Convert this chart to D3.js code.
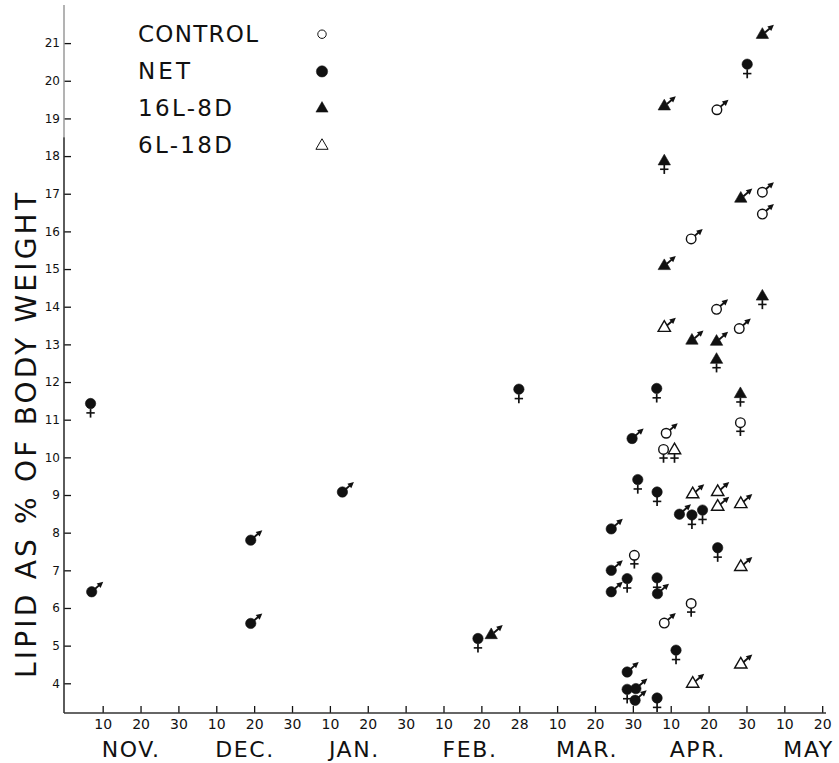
<!DOCTYPE html>
<html>
<head>
<meta charset="utf-8">
<script src="https://cdn.jsdelivr.net/npm/d3@7"></script>
<style>
  body { margin: 0; background: #fff; }
  svg { display: block; font-family: "DejaVu Sans", sans-serif; }
</style>
</head>
<body>
<svg id="chart" width="839" height="763"></svg>
<script>
// x = days from 1 Nov on the figure's even 10-day grid (Feb 28 sits in a "30" slot)
// each point: [day, lipid %, sex]
const control = [
  [172.2, 19.23, 'M'], [184.2, 17.04, 'M'], [184.2, 16.46, 'M'], [165.4, 15.8, 'M'],
  [172.1, 13.93, 'M'], [178.1, 13.42, 'M'], [178.4, 10.92, 'F'], [158.8, 10.64, 'M'],
  [158.1, 10.21, 'F'], [150.4, 7.4, 'F'], [165.4, 6.12, 'F'], [158.3, 5.6, 'M']
]
const net = [
  [6.8, 11.43, 'F'], [7.1, 6.43, 'M'], [49.1, 7.8, 'M'], [49.1, 5.59, 'M'],
  [73.3, 9.08, 'M'], [119.9, 11.81, 'F'], [109.1, 5.19, 'F'], [180.2, 20.44, 'F'],
  [156.3, 11.83, 'F'], [149.8, 10.5, 'M'], [151.3, 9.41, 'F'], [156.4, 9.08, 'F'],
  [162.3, 8.49, 'M'], [165.6, 8.47, 'F'], [168.4, 8.6, 'F'], [144.3, 8.1, 'M'],
  [172.4, 7.6, 'F'], [144.3, 7.0, 'M'], [148.5, 6.78, 'F'], [156.4, 6.8, 'F'],
  [144.3, 6.43, 'M'], [156.5, 6.38, 'M'], [161.4, 4.88, 'F'], [148.5, 4.3, 'M'],
  [148.5, 3.84, 'F'], [150.8, 3.86, 'M'], [150.6, 3.55, 'M'], [156.4, 3.61, 'F']
]
const longDay = [   // 16L-8D
  [184.2, 21.22, 'M'], [158.3, 19.32, 'M'], [158.3, 17.86, 'F'], [178.5, 16.87, 'M'],
  [158.3, 15.08, 'M'], [184.2, 14.27, 'F'], [165.6, 13.1, 'M'], [172.1, 13.07, 'M'],
  [172.1, 12.59, 'F'], [178.4, 11.68, 'F'], [112.6, 5.28, 'M']
]
const shortDay = [  // 6L-18D
  [158.3, 13.44, 'M'], [161, 10.19, 'F'], [165.8, 9.02, 'M'], [172.4, 9.08, 'M'],
  [172.4, 8.69, 'M'], [178.5, 8.76, 'M'], [178.5, 7.09, 'M'], [178.5, 4.5, 'M'],
  [165.8, 3.99, 'M']
]

const legendLabels = ['CONTROL', 'NET', '16L-8D', '6L-18D']
const xTickDays = d3.range(10, 201, 10)
const xTickLabels = ['10','20','30','10','20','30','10','20','30','10','20','28','10','20','30','10','20','30','10','20']
const months = ['NOV.', 'DEC.', 'JAN.', 'FEB.', 'MAR.', 'APR.', 'MAY']
const monthStarts = [0, 30, 60, 90, 120, 150, 180]
const yTicks = d3.range(4, 22)
const yTitle = 'LIPID AS % OF BODY WEIGHT'

const ink = '#111'
const svg = d3.select('#chart')

const x = d3.scaleLinear().domain([0, 200]).range([64.8, 822.2])
const y = d3.scaleLinear().domain([4, 21]).range([683.3, 43.1])
const baseY = 713
const topY = 5
const axisX = 64

const groups = [
  { data: control, type: d3.symbolCircle, size: 72, filled: false, bottom: 4.3 },
  { data: net, type: d3.symbolCircle, size: 84, filled: true, bottom: 5.1 },
  { data: longDay, type: d3.symbolTriangle, size: 66, filled: true, bottom: 3.6 },
  { data: shortDay, type: d3.symbolTriangle, size: 66, filled: false, bottom: 3.6 }
]

// axes
const xAxis = d3.axisBottom(x)
  .tickValues(xTickDays)
  .tickSizeInner(-7)
  .tickSizeOuter(0)
  .tickPadding(6)
  .tickFormat((d, i) => xTickLabels[i])

svg.append('g')
  .attr('transform', `translate(0,${baseY})`)
  .call(xAxis)
  .call(g => g.select('.domain').remove())
  .call(g => g.selectAll('line').attr('stroke', ink).attr('stroke-width', 1.3))
  .call(g => g.selectAll('text').attr('fill', ink).attr('font-size', 14).attr('font-family', '"DejaVu Sans", sans-serif'))

const yAxis = d3.axisLeft(y)
  .tickValues(yTicks)
  .tickSizeInner(-7)
  .tickSizeOuter(0)
  .tickPadding(4)

svg.append('g')
  .attr('transform', `translate(${axisX},0)`)
  .call(yAxis)
  .call(g => g.select('.domain').remove())
  .call(g => g.selectAll('line').attr('stroke', ink).attr('stroke-width', 1.3))
  .call(g => g.selectAll('text').attr('fill', ink).attr('font-size', 12).attr('font-family', '"DejaVu Sans", sans-serif'))

// axis lines (upper part of the printed y axis is faded)
svg.append('line')
  .attr('x1', axisX).attr('x2', axisX)
  .attr('y1', topY).attr('y2', y(18.5))
  .attr('stroke', '#9a9a9a').attr('stroke-width', 1.5)
svg.append('line')
  .attr('x1', axisX).attr('x2', axisX)
  .attr('y1', y(18.5)).attr('y2', baseY)
  .attr('stroke', '#333').attr('stroke-width', 1.6)
svg.append('line')
  .attr('x1', axisX).attr('x2', 826)
  .attr('y1', baseY).attr('y2', baseY)
  .attr('stroke', '#333').attr('stroke-width', 1.6)

// month names
svg.append('g').selectAll('text')
  .data(months)
  .join('text')
  .attr('x', (d, i) => x(monthStarts[i] + 10) - 1)
  .attr('y', 757)
  .attr('font-size', 22)
  .attr('letter-spacing', 1.6)
  .attr('fill', ink)
  .text(d => d)

// y title
svg.append('text')
  .attr('transform', `translate(36,${(193 + 678) / 2}) rotate(-90)`)
  .attr('text-anchor', 'middle')
  .attr('font-size', 28)
  .attr('textLength', 485)
  .attr('lengthAdjust', 'spacing')
  .attr('fill', ink)
  .text(yTitle)

// male arrow and female cross drawn around a marker
const arrowAngle = -41 * Math.PI / 180
const dir = [Math.cos(arrowAngle), Math.sin(arrowAngle)]
const perp = [-dir[1], dir[0]]
const along = (t, w = 0) => [t * dir[0] + w * perp[0], t * dir[1] + w * perp[1]]

function drawSexSign(g, sex, bottom) {
  if (sex === 'M') {
    const a = along(3.5), b = along(10.5)
    g.append('line')
      .attr('x1', a[0]).attr('y1', a[1]).attr('x2', b[0]).attr('y2', b[1])
      .attr('stroke', ink).attr('stroke-width', 1.9)
    g.append('path')
      .attr('d', d3.line()([along(15.3), along(9.2, 3), along(9.2, -3)]) + 'Z')
      .attr('fill', ink)
  } else {
    g.append('line')
      .attr('x1', 0).attr('y1', bottom).attr('x2', 0).attr('y2', bottom + 9)
      .attr('stroke', ink).attr('stroke-width', 1.7)
    g.append('line')
      .attr('x1', -4.2).attr('y1', bottom + 4.3).attr('x2', 4.2).attr('y2', bottom + 4.3)
      .attr('stroke', ink).attr('stroke-width', 1.6)
  }
}

const plot = svg.append('g')
groups.forEach(grp => {
  const pts = plot.append('g').selectAll('g')
    .data(grp.data)
    .join('g')
    .attr('transform', d => `translate(${x(d[0])},${y(d[1])})`)
  pts.each(function (d) { drawSexSign(d3.select(this), d[2], grp.bottom) })
  pts.append('path')
    .attr('d', d3.symbol(grp.type, grp.size))
    .attr('fill', grp.filled ? ink : '#fff')
    .attr('stroke', ink)
    .attr('stroke-width', grp.filled ? 0.6 : 1.4)
})

// legend
const legendRows = [
  { label: legendLabels[0], len: 120, type: d3.symbolCircle, size: 56, filled: false },
  { label: legendLabels[1], len: 52, type: d3.symbolCircle, size: 100, filled: true },
  { label: legendLabels[2], len: 94, type: d3.symbolTriangle, size: 64, filled: true },
  { label: legendLabels[3], len: 94, type: d3.symbolTriangle, size: 64, filled: false }
]
const legend = svg.append('g')
legendRows.forEach((r, i) => {
  const rowY = 41.7 + i * 37.2
  legend.append('text')
    .attr('x', 138).attr('y', rowY)
    .attr('font-size', 23)
    .attr('textLength', r.len)
    .attr('lengthAdjust', 'spacing')
    .attr('fill', ink)
    .text(r.label)
  legend.append('path')
    .attr('transform', `translate(322,${rowY - 7.5})`)
    .attr('d', d3.symbol(r.type, r.size))
    .attr('fill', r.filled ? ink : '#fff')
    .attr('stroke', ink)
    .attr('stroke-width', r.filled ? 0.5 : 1)
})
</script>
</body>
</html>
